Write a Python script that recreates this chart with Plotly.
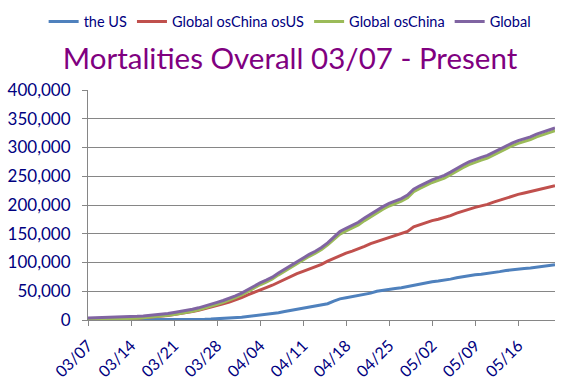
import plotly.graph_objects as go
import pandas as pd

dates = pd.date_range("2020-03-07", "2020-05-22", freq="D").strftime("%Y-%m-%d").tolist()

us = [17, 21, 22, 28, 36, 40, 47, 54, 63, 85, 108, 118, 200, 244, 307, 427, 552, 706, 942, 1209,
      1581, 2026, 2467, 2978, 3873, 4757, 5926, 7087, 8407, 9619, 10783, 12722, 14695, 16478, 18586,
      20463, 22020, 23529, 25832, 28325, 32916, 36773, 38664, 40661, 42094, 44845, 46785, 49954,
      51949, 53755, 54881, 56219, 58355, 60967, 62996, 64943, 66369, 67682, 68922, 71064, 73455,
      75662, 77180, 78795, 79526, 80682, 82356, 84119, 85898, 87530, 88754, 89562, 90347, 91921,
      93439, 94702, 95979]

global_os_china_os_us = [468, 681, 843, 1095, 1418, 1508, 2177, 2572, 3174, 3824, 4567, 5374, 6418,
      7802, 9407, 10922, 12671, 14628, 16954, 19470, 22321, 25327, 28154, 31296, 34925, 38736,
      43735, 48374, 52869, 56422, 60447, 65808, 70306, 75638, 80599, 84697, 88728, 92608, 96806,
      102505, 107538, 112412, 116209, 119747, 123256, 127978, 132796, 136268, 140574, 144455,
      147027, 150312, 154162, 162035, 165756, 169071, 172803, 175152, 177979, 181539, 185764,
      189269, 193082, 195880, 198547, 201012, 204950, 208442, 211884, 215500, 218457, 220987,
      223498, 226728, 228425, 231162, 233385]

global_os_china = [485, 702, 865, 1123, 1454, 1548, 2224, 2626, 3237, 3909, 4675, 5492, 6618, 8046,
      9714, 11349, 13223, 15334, 17896, 20679, 23902, 27353, 30621, 34274, 38798, 43493, 49661,
      55461, 61276, 66041, 71230, 78530, 85001, 92116, 99185, 105160, 110748, 116137, 122638,
      130830, 140454, 149185, 154873, 160408, 165350, 172823, 179581, 186222, 192523, 198210,
      201908, 206531, 212517, 223002, 228752, 234014, 239172, 242834, 246901, 252603, 259219,
      264931, 270262, 274675, 278073, 281694, 287306, 292561, 297782, 303030, 307211, 310549,
      313845, 318649, 321864, 325864, 329364]

global_all = [3558, 3802, 3988, 4262, 4615, 4720, 5404, 5819, 6440, 7126, 7905, 8733, 9867, 11299,
      12973, 14623, 16497, 18615, 21181, 23970, 27198, 30652, 33925, 37582, 42107, 46809, 52983,
      58787, 64606, 69374, 74565, 81865, 88338, 95455, 102525, 108503, 114091, 119482, 125983,
      134176, 143800, 153821, 159509, 165044, 169986, 177459, 184217, 190858, 197159, 202846,
      206544, 211167, 217153, 227638, 233388, 238650, 243808, 247470, 251537, 257239, 263855,
      269567, 274898, 279311, 282709, 286330, 291942, 297197, 302418, 307666, 311847, 315185,
      318481, 323285, 326500, 330500, 334000]

series_names = ["the US", "Global osChina osUS", "Global osChina", "Global"]
series_values = [us, global_os_china_os_us, global_os_china, global_all]
colors = ["#4F81BD", "#C0504D", "#9BBB59", "#8064A2"]

x_tickvals = ["2020-03-07", "2020-03-14", "2020-03-21", "2020-03-28", "2020-04-04", "2020-04-11",
              "2020-04-18", "2020-04-25", "2020-05-02", "2020-05-09", "2020-05-16"]
x_ticktext = ["03/07", "03/14", "03/21", "03/28", "04/04", "04/11", "04/18", "04/25", "05/02",
              "05/09", "05/16"]
y_tickvals = [0, 50000, 100000, 150000, 200000, 250000, 300000, 350000, 400000]

FONT = "Lato"
NAVY = "#000080"
GRID = "#868686"

fig = go.Figure()
for name, vals, c in zip(series_names, series_values, colors):
    fig.add_trace(go.Scatter(x=dates, y=vals, name=name, mode="lines",
                             line=dict(color=c, width=3)))

fig.update_layout(
    width=580, height=389,
    margin=dict(l=88, r=25, t=90, b=69, autoexpand=False),
    paper_bgcolor="white", plot_bgcolor="white",
    font=dict(family=FONT, color=NAVY),
    title=dict(text="Mortalities Overall 03/07 - Present", x=0.5, xanchor="center",
               y=0.849, yanchor="middle", yref="container",
               font=dict(family=FONT, size=29.5, color="#800080")),
    legend=dict(orientation="h", x=-0.095, xanchor="left", y=1.297, yanchor="middle",
                xref="paper", yref="paper",
                font=dict(family=FONT, size=14.5, color=NAVY),
                itemwidth=30, traceorder="normal", tracegroupgap=0,
                bgcolor="rgba(0,0,0,0)"),
    showlegend=True,
)

fig.update_xaxes(type="date", range=["2020-03-07", "2020-05-22"], automargin=False,
                 tickvals=x_tickvals, ticktext=x_ticktext, tickangle=-45,
                 tickfont=dict(family=FONT, size=16, color=NAVY), ticklabelstandoff=4,
                 showgrid=False, showline=True, linecolor=GRID, linewidth=1,
                 ticks="outside", ticklen=5, tickcolor=GRID, zeroline=False)
fig.update_yaxes(range=[0, 400000], tickvals=y_tickvals, tickformat=",", automargin=False,
                 tickfont=dict(family=FONT, size=17, color=NAVY), ticklabelstandoff=8,
                 showgrid=True, gridcolor=GRID, gridwidth=1,
                 showline=True, linecolor=GRID, linewidth=1,
                 ticks="outside", ticklen=5, tickcolor=GRID, zeroline=False)

fig.write_html("out.html", post_script="document.body.style.margin='0';",
               config={"displayModeBar": False})
